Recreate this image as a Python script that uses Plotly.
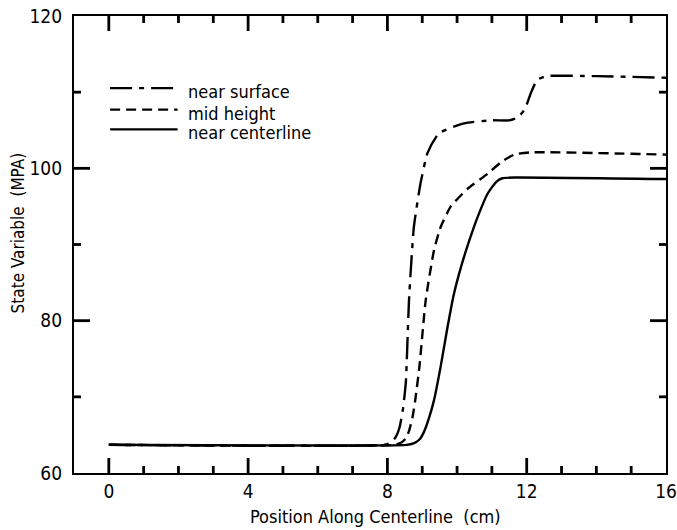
import plotly.graph_objects as go

# State variable along the centerline at three depths
near_surface_x = [0, 7.9, 8.1, 8.25, 8.35, 8.45, 8.53, 8.62, 8.76, 8.95, 9.15, 9.48,
                  10.2, 10.97, 11.5, 11.75, 11.95, 12.12, 12.3, 12.55, 14.0, 16.0]
near_surface_y = [63.7, 63.7, 64.0, 64.8, 66.0, 68.5, 72.0, 82.7, 92.3, 98.0, 102.0, 104.6,
                  105.9, 106.3, 106.3, 106.7, 107.8, 109.9, 111.6, 112.1, 112.1, 111.9]

mid_height_x = [0, 8.2, 8.4, 8.52, 8.62, 8.72, 8.8, 8.92, 9.1, 9.34, 9.53, 9.82,
                10.3, 10.88, 11.26, 11.64, 12.12, 16.0]
mid_height_y = [63.7, 63.7, 64.0, 64.5, 65.5, 67.3, 69.6, 74.0, 82.7, 89.3, 92.3, 95.0,
                97.3, 99.3, 100.8, 101.8, 102.1, 101.8]

centerline_x = [0, 8.55, 8.75, 8.92, 9.05, 9.2, 9.34, 9.53, 9.72, 9.9, 10.11, 10.35,
                10.59, 10.88, 11.12, 11.3, 11.64, 16.0]
centerline_y = [63.7, 63.7, 63.9, 64.4, 65.4, 67.3, 69.6, 74.0, 79.0, 83.3, 87.0, 90.5,
                93.6, 96.7, 98.2, 98.7, 98.8, 98.6]

series_names = ["near surface", "mid height", "near centerline"]
x_ticks = [0, 4, 8, 12, 16]
y_ticks = [60, 80, 100, 120]
x_minor_step = 1
y_minor_step = 10
x_range = [-1, 16]
y_range = [60, 120]

FONT = "DejaVu Sans Condensed, DejaVu Sans, sans-serif"
DASHES = ["22px,7px,5px,7px", "10px,6px", "solid"]

W, H = 677, 530
M = dict(l=74, r=11, t=16, b=57)
plot_w = W - M["l"] - M["r"]
plot_h = H - M["t"] - M["b"]
x_per_px = (x_range[1] - x_range[0]) / plot_w
y_per_px = (y_range[1] - y_range[0]) / plot_h

fig = go.Figure()
for xs, ys, dash, name in zip(
    [near_surface_x, mid_height_x, centerline_x],
    [near_surface_y, mid_height_y, centerline_y],
    DASHES, series_names,
):
    fig.add_trace(go.Scatter(
        x=xs, y=ys, mode="lines", name=name,
        line=dict(color="black", width=2.4, dash=dash, shape="spline", smoothing=0.5),
        showlegend=False,
    ))

# Inward tick marks on all four sides, drawn as one broken line trace
tx, ty = [], []
def x_tick(v, length):
    d = length * y_per_px
    tx.extend([v, v, None, v, v, None])
    ty.extend([y_range[0], y_range[0] + d, None, y_range[1], y_range[1] - d, None])

def y_tick(v, length):
    d = length * x_per_px
    tx.extend([x_range[0], x_range[0] + d, None, x_range[1], x_range[1] - d, None])
    ty.extend([v, v, None, v, v, None])

for i in range(len(x_ticks) - 1):
    x_tick(x_ticks[i], 15)
    v = x_ticks[i] + x_minor_step
    while v < x_ticks[i + 1]:
        x_tick(v, 7)
        v += x_minor_step
for i in range(len(y_ticks) - 1):
    if i > 0:
        y_tick(y_ticks[i], 16)
    v = y_ticks[i] + y_minor_step
    while v < y_ticks[i + 1]:
        y_tick(v, 7)
        v += y_minor_step

fig.add_trace(go.Scatter(x=tx, y=ty, mode="lines", line=dict(color="black", width=2.8),
                         hoverinfo="skip", showlegend=False, cliponaxis=False))

# Key in the upper left
key_rows = [0.842, 0.795, 0.752]
for name, dash, ky in zip(series_names, DASHES, key_rows):
    fig.add_shape(type="line", xref="paper", yref="paper",
                  x0=0.061, x1=0.175, y0=ky, y1=ky,
                  line=dict(color="black", width=2.2, dash=dash))
    fig.add_annotation(text=name, xref="paper", yref="paper", x=0.19, y=ky - 0.008,
                       xanchor="left", yanchor="middle", showarrow=False,
                       font=dict(family=FONT, size=18, color="black"))

# Axis titles
fig.add_annotation(text="State Variable  (MPA)", xref="paper", yref="paper",
                   x=-0.094, y=0.525, xanchor="center", yanchor="middle",
                   textangle=-90, showarrow=False,
                   font=dict(family=FONT, size=17, color="black"))
fig.add_annotation(text="Position Along Centerline  (cm)", xref="paper", yref="paper",
                   x=0.51, y=-0.096, xanchor="center", yanchor="middle",
                   showarrow=False, font=dict(family=FONT, size=18, color="black"))

axis_common = dict(
    showgrid=False, zeroline=False, showline=True, linecolor="black", linewidth=2.2,
    mirror=True, ticks="", automargin=False,
    tickfont=dict(family=FONT, size=19, color="black"),
)

fig.update_xaxes(
    range=x_range, tickmode="array", tickvals=x_ticks, ticktext=[str(v) for v in x_ticks],
    **axis_common,
)
fig.update_yaxes(
    range=y_range, tickmode="array", tickvals=y_ticks, ticktext=[str(v) for v in y_ticks],
    ticklabelstandoff=6, **axis_common,
)

fig.update_layout(
    width=W, height=H,
    margin=M,
    plot_bgcolor="white", paper_bgcolor="white",
    showlegend=False,
)

fig.write_html("out.html")
